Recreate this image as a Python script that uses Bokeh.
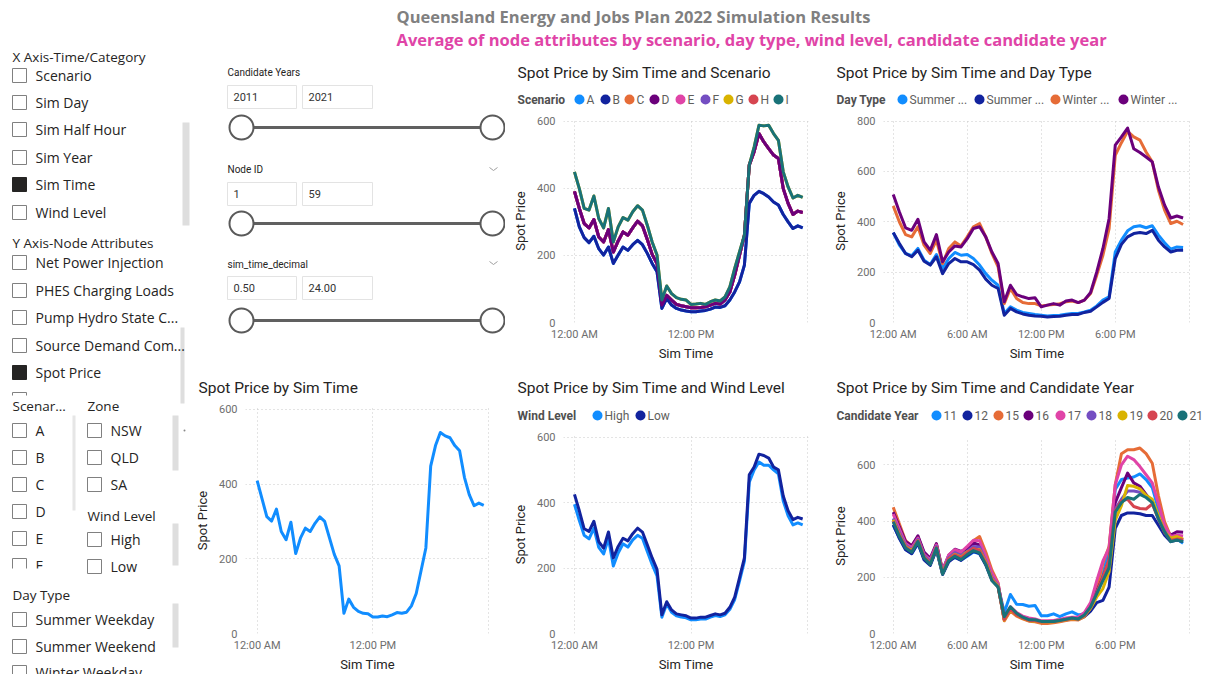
from bokeh.plotting import figure
from bokeh.layouts import row, column
from bokeh.models import Range1d, FixedTicker
from bokeh.core.properties import value
from bokeh.embed import file_html
from bokeh.resources import INLINE

# ------------------------------------------------------------------ data
sim_time = [0.0, 0.5, 1.0, 1.5, 2.0, 2.5, 3.0, 3.5, 4.0, 4.5, 5.0, 5.5,
            6.0, 6.5, 7.0, 7.5, 8.0, 8.5, 9.0, 9.5, 10.0, 10.5, 11.0, 11.5,
            12.0, 12.5, 13.0, 13.5, 14.0, 14.5, 15.0, 15.5, 16.0, 16.5, 17.0, 17.5,
            18.0, 18.5, 19.0, 19.5, 20.0, 20.5, 21.0, 21.5, 22.0, 22.5, 23.0, 23.5]

ticks_12h = [0, 12, 24]
labels_12h = ["12:00 AM", "12:00 PM", ""]
ticks_6h = [0, 6, 12, 18, 24]
labels_6h = ["12:00 AM", "6:00 AM", "12:00 PM", "6:00 PM", ""]

# Spot Price by Sim Time
spot_price_total = [409, 361, 313, 301, 333, 273, 251, 298, 214, 256, 282, 273, 295, 312, 300, 256, 212, 181,
                    54, 92, 70, 59, 54, 53, 44, 44, 47, 45, 50, 56, 54, 57,
                    74, 107, 168, 229,
                    448, 503, 538, 529, 524, 503, 489, 418, 372, 342, 349, 343]

# Spot Price by Sim Time and Wind Level
wind_levels = ["High", "Low"]
wind_high = [395, 345, 300, 289, 322, 263, 243, 291, 206, 246, 274, 264, 286, 300, 291, 251, 211, 176,
             50, 90, 65, 54, 50, 48, 42, 42, 44, 44, 50, 55, 52, 57,
             74, 104, 161, 221,
             462, 500, 524, 514, 514, 500, 488, 405, 360, 332, 338, 332]
wind_low = [425, 375, 320, 312, 343, 281, 261, 310, 231, 266, 291, 283, 305, 322, 310, 271, 231, 196,
            57, 97, 72, 60, 57, 54, 47, 47, 50, 50, 55, 60, 57, 62,
            80, 111, 171, 231,
            485, 509, 548, 544, 536, 509, 500, 420, 375, 348, 355, 350]

# Spot Price by Sim Time and Scenario (scenarios fall on three coincident profiles)
scenario_names = ["A", "B", "C", "D", "E", "F", "G", "H", "I"]
scenario_group = ["low", "low", "mid", "mid", "mid", "mid", "high", "mid", "high"]
scen_low = [340, 285, 253, 238, 257, 220, 201, 225, 176, 201, 225, 215, 232, 245, 232, 206, 176, 151,
            42, 72, 52, 42, 37, 34, 32, 32, 34, 36, 40, 46, 45, 50,
            67, 91, 121, 171,
            355, 379, 391, 384, 374, 359, 350, 322, 300, 280, 288, 282]
scen_mid = [391, 340, 295, 282, 307, 255, 240, 277, 210, 243, 270, 260, 282, 302, 288, 247, 203, 176,
            52, 81, 67, 54, 50, 47, 44, 44, 45, 47, 52, 57, 55, 67,
            91, 141, 201, 260,
            469, 509, 563, 538, 518, 499, 489, 399, 355, 322, 332, 328]
scen_high = [449, 399, 340, 335, 377, 310, 282, 340, 240, 285, 313, 305, 330, 348, 335, 290, 240, 201,
             67, 109, 86, 74, 69, 67, 54, 55, 57, 54, 62, 67, 64, 76,
             106, 161, 211, 260,
             469, 523, 588, 586, 588, 563, 543, 449, 404, 371, 379, 373]

# Spot Price by Sim Time and Day Type
day_types = ["Summer Weekday", "Summer Weekend", "Winter Weekday", "Winter Weekend"]
day_type_legend = ["Summer ...", "Summer ...", "Winter ...", "Winter ..."]
summer_weekday = [357, 307, 274, 265, 294, 247, 230, 270, 214, 254, 278, 267, 270, 254, 228, 194, 168, 148,
                  36, 62, 49, 40, 36, 32, 29, 26, 28, 29, 33, 36, 36, 42,
                  49, 66, 89, 102,
                  280, 327, 364, 380, 384, 376, 384, 347, 317, 291, 300, 298]
summer_weekend = [357, 314, 274, 261, 287, 243, 228, 261, 194, 234, 254, 241, 241, 230, 208, 172, 148, 135,
                  29, 56, 42, 34, 29, 26, 25, 22, 24, 25, 29, 32, 32, 40,
                  45, 62, 80, 95,
                  254, 310, 340, 353, 357, 353, 366, 327, 300, 280, 287, 287]
winter_weekday = [463, 399, 349, 340, 380, 307, 274, 327, 234, 294, 320, 304, 340, 380, 393, 340, 274, 221,
                  75, 135, 95, 79, 75, 75, 66, 69, 71, 75, 82, 85, 79, 89,
                  115, 188, 267, 373,
                  664, 714, 759, 737, 724, 677, 638, 525, 446, 393, 402, 389]
winter_weekend = [508, 439, 376, 366, 410, 320, 287, 349, 241, 280, 304, 300, 333, 373, 380, 340, 280, 234,
                  82, 148, 111, 102, 95, 98, 62, 69, 75, 69, 85, 89, 79, 89,
                  119, 201, 294, 413,
                  704, 737, 772, 690, 675, 657, 638, 538, 466, 415, 423, 415]

# Spot Price by Sim Time and Candidate Year
candidate_years = ["11", "12", "15", "16", "17", "18", "19", "20", "21"]
cy_11 = [385, 340, 300, 285, 320, 265, 245, 300, 212, 262, 270, 262, 275, 290, 285, 248, 195, 170,
         75, 139, 104, 103, 97, 100, 63, 63, 70, 60, 70, 77, 66, 70,
         95, 150, 210, 300,
         513, 548, 553, 557, 568, 548, 519, 443, 374, 345, 336, 321]
cy_12 = [387, 338, 298, 284, 322, 262, 242, 298, 210, 255, 272, 260, 278, 292, 284, 244, 190, 168,
         50, 85, 68, 55, 48, 46, 40, 40, 42, 44, 48, 52, 50, 60,
         80, 110, 118, 165,
         374, 420, 429, 429, 426, 420, 420, 385, 350, 327, 333, 327]
cy_15 = [449, 390, 330, 312, 345, 285, 260, 318, 225, 275, 295, 285, 305, 330, 345, 290, 225, 180,
         45, 80, 62, 52, 44, 42, 36, 36, 38, 42, 46, 50, 48, 60,
         100, 160, 250, 310,
         530, 640, 654, 654, 660, 640, 606, 490, 397, 345, 339, 333]
cy_16 = [432, 380, 328, 312, 348, 290, 268, 320, 225, 278, 300, 292, 302, 322, 315, 262, 200, 172,
         58, 92, 70, 58, 50, 48, 43, 43, 45, 48, 52, 56, 54, 68,
         95, 150, 200, 260,
         466, 519, 571, 536, 524, 495, 466, 414, 374, 350, 362, 360]
cy_17 = [425, 372, 320, 305, 340, 282, 262, 315, 222, 280, 298, 290, 310, 332, 330, 275, 215, 178,
         55, 95, 75, 62, 55, 52, 45, 45, 46, 50, 55, 58, 58, 75,
         110, 188, 258, 304,
         530, 600, 631, 619, 594, 565, 536, 461, 385, 345, 350, 347]
cy_18 = [410, 360, 315, 298, 335, 278, 255, 310, 218, 270, 288, 278, 292, 310, 308, 258, 200, 170,
         52, 88, 68, 56, 48, 46, 42, 42, 44, 47, 50, 54, 52, 64,
         95, 145, 195, 250,
         443, 478, 507, 507, 503, 490, 466, 408, 362, 333, 339, 333]
cy_19 = [405, 352, 310, 295, 330, 272, 250, 305, 215, 265, 282, 272, 290, 300, 298, 255, 195, 168,
         48, 84, 65, 54, 46, 44, 40, 40, 42, 45, 49, 53, 50, 62,
         90, 130, 160, 220,
         403, 455, 527, 524, 515, 492, 478, 420, 362, 339, 345, 336]
cy_20 = [400, 350, 308, 292, 330, 272, 250, 306, 214, 266, 280, 270, 288, 303, 296, 250, 192, 165,
         50, 86, 66, 55, 47, 45, 41, 41, 43, 46, 50, 54, 51, 63,
         95, 145, 200, 265,
         437, 472, 478, 452, 445, 443, 461, 408, 360, 331, 336, 333]
cy_21 = [397, 345, 304, 289, 327, 269, 246, 304, 211, 260, 275, 263, 281, 295, 287, 246, 188, 165,
         60, 95, 72, 58, 49, 49, 43, 43, 43, 46, 51, 55, 52, 66,
         95, 142, 188, 234,
         432, 466, 484, 478, 495, 484, 466, 408, 362, 327, 333, 327]

# slicer contents
x_axis_items = ["Scenario", "Sim Day", "Sim Half Hour", "Sim Year", "Sim Time", "Wind Level"]
x_axis_checked = [False, False, False, False, True, False]
y_axis_items = ["Net Power Injection", "PHES Charging Loads", "Pump Hydro State C...",
                "Source Demand Com...", "Spot Price"]
y_axis_checked = [False, False, False, False, True]
scenario_items = ["A", "B", "C", "D", "E", "F"]
zone_items = ["NSW", "QLD", "SA"]
wind_items = ["High", "Low"]
day_items = ["Summer Weekday", "Summer Weekend", "Winter Weekday"]
slider_titles = ["Candidate Years", "Node ID", "sim_time_decimal"]
slider_lows = ["2011", "1", "0.50"]
slider_highs = ["2021", "59", "24.00"]

# ------------------------------------------------------------------ style
PBI = ["#118DFF", "#12239E", "#E66C37", "#6B007B", "#E044A7",
       "#744EC2", "#D9B300", "#D64550", "#197278"]
TXT = "#252423"
LEG_TXT = "#605E5C"
TICK_TXT = "#6E6E6E"
UI_FONT = "Open Sans"
CH_FONT = "Roboto"
F_UI = value(UI_FONT)
F_CH = value(CH_FONT)


def canvas(x0, y0, w, h):
    p = figure(width=w, height=h, x_range=Range1d(x0, x0 + w), y_range=Range1d(y0 + h, y0),
               x_axis_type=None, y_axis_type=None, output_backend="svg",
               toolbar_location=None, title=None, min_border=0)
    p.outline_line_color = None
    return p


def put_text(p, xs, ys, texts, size, color=TXT, font=F_UI, style="normal", align="left"):
    p.text(x=xs, y=ys, text=texts, text_font=font, text_font_size=size, text_color=color,
           text_font_style=style, text_align=align, text_baseline="middle")


def checkboxes(p, bx, ys, labels, checked=None):
    if checked is None:
        checked = [False] * len(ys)
    fills = [TXT if c else "white" for c in checked]
    lines = [TXT if c else "#808080" for c in checked]
    p.scatter(x=[bx + 7] * len(ys), y=ys, size=14, marker="square",
              fill_color=fills, line_color=lines, line_width=1)
    put_text(p, [bx + 23] * len(ys), ys, labels, "14px")


def bars(p, rects, color):
    p.quad(left=[r[0] for r in rects], right=[r[1] for r in rects],
           top=[r[2] for r in rects], bottom=[r[3] for r in rects],
           fill_color=color, line_color=None)


def make_plot(x0, y0, w, h, fl, fr, ft, fb, xr, ymax, xt, xl, yt):
    p = figure(width=w, height=h, x_range=Range1d(xr[0], xr[1]), y_range=Range1d(0, ymax),
               output_backend="svg", toolbar_location=None, title=None,
               min_border_left=fl - x0, min_border_right=x0 + w - fr,
               min_border_top=ft - y0, min_border_bottom=y0 + h - fb)
    p.outline_line_color = None
    p.xaxis.ticker = FixedTicker(ticks=xt, minor_ticks=[])
    p.xaxis.major_label_overrides = {t: l for t, l in zip(xt, xl)}
    p.yaxis.ticker = FixedTicker(ticks=yt, minor_ticks=[])
    for ax in (p.xaxis[0], p.yaxis[0]):
        ax.axis_line_color = None
        ax.major_tick_line_color = None
        ax.minor_tick_line_color = None
        ax.major_tick_out = 0
        ax.major_tick_in = 0
        ax.major_label_text_font = CH_FONT
        ax.major_label_text_font_size = "11px"
        ax.major_label_text_color = TICK_TXT
        ax.axis_label_text_font = CH_FONT
        ax.axis_label_text_font_size = "13px"
        ax.axis_label_text_font_style = "normal"
        ax.axis_label_text_color = TXT
    p.xaxis.axis_label = "Sim Time"
    p.yaxis.axis_label = "Spot Price"
    p.xaxis.major_label_standoff = 5
    p.xaxis.axis_label_standoff = 2
    p.yaxis.major_label_standoff = 8
    p.yaxis.axis_label_standoff = 6
    p.grid.grid_line_color = "#C8C8C8"
    p.grid.grid_line_dash = "1 3"
    p.grid.grid_line_width = 1
    return p


def draw_lines(p, series, colors):
    for vals, col in zip(series, colors):
        p.line(sim_time, vals, line_color=col, line_width=3, line_join="round")


def header(x0, y0, w, h, title, tx, ty, leg_title=None, ly=None, names=None, colors=None, xs=None):
    p = canvas(x0, y0, w, h)
    put_text(p, [tx], [ty], [title], "15.5px", TXT, F_CH)
    if leg_title is not None:
        put_text(p, [tx], [ly], [leg_title], "12px", "#505050", F_CH, "bold")
        p.scatter(x=xs, y=[ly] * len(xs), size=10, marker="circle", fill_color=colors, line_color=None)
        put_text(p, [x + 7 for x in xs], [ly] * len(xs), names, "12px", LEG_TXT, F_CH)
    return p


# ------------------------------------------------------------------ page title
title_fig = canvas(190, 0, 1016, 50)
put_text(title_fig, [396], [16], ["Queensland Energy and Jobs Plan 2022 Simulation Results"],
         "16.5px", "#808080", F_UI, "bold")
put_text(title_fig, [396], [39],
         ["Average of node attributes by scenario, day type, wind level, candidate candidate year"],
         "16.5px", "#E044A7", F_UI, "bold")

# ------------------------------------------------------------------ left slicer panel
left = canvas(0, 0, 190, 674)
bars(left, [(182, 189, 122, 225), (180, 184, 327, 403), (172, 178, 415, 470),
            (172, 178, 523, 565), (172, 178, 603, 647)], "#DEDEDE")
bars(left, [(72, 75, 415, 510)], "#E6E6E6")
put_text(left, [12, 12, 12, 87, 87, 12], [56, 242, 405, 405, 515, 594],
         ["X Axis-Time/Category", "Y Axis-Node Attributes", "Scenar...", "Zone", "Wind Level", "Day Type"],
         "13.5px")
checkboxes(left, 12, [75, 102, 129, 157, 184, 212], x_axis_items, x_axis_checked)
checkboxes(left, 12, [262, 290, 317, 345, 372], y_axis_items, y_axis_checked)
left.segment(x0=[12, 12, 26], y0=[392, 392, 392], x1=[26, 12, 26], y1=[392, 395, 395],
             line_color="#808080", line_width=1)
checkboxes(left, 12, [430, 457, 484, 511, 538, 565], scenario_items)
bars(left, [(0, 70, 568, 585)], "white")
checkboxes(left, 87, [430, 457, 484], zone_items)
checkboxes(left, 87, [539, 566], wind_items)
checkboxes(left, 12, [619, 646, 672], day_items)
left.scatter(x=[184], y=[430], size=2, marker="circle", fill_color="#888888", line_color=None)

# ------------------------------------------------------------------ range sliders
sliders = canvas(190, 50, 315, 318)
label_ys = [72, 169, 264]
box_ys = [(85, 108), (182, 205), (276, 299)]
track_ys = [127, 223, 320]
put_text(sliders, [227] * 3, label_ys, slider_titles, "10px", TXT, F_CH)
rects = []
for b in box_ys:
    rects.append((227, 296, b[0], b[1]))
    rects.append((302, 372, b[0], b[1]))
sliders.quad(left=[r[0] for r in rects], right=[r[1] for r in rects],
             top=[r[2] for r in rects], bottom=[r[3] for r in rects],
             fill_color="white", line_color="#E3E3E3", line_width=1)
mids = [(b[0] + b[1]) / 2 for b in box_ys]
put_text(sliders, [233] * 3 + [308] * 3, mids + mids, slider_lows + slider_highs, "11px", "#333333", F_CH)
sliders.segment(x0=[253] * 3, y0=track_ys, x1=[480] * 3, y1=track_ys, line_color="#606060", line_width=3)
sliders.scatter(x=[241] * 3 + [492] * 3, y=track_ys + track_ys, size=24, marker="circle",
                fill_color="white", line_color="#5A5A5A", line_width=2)
sliders.segment(x0=[489, 493, 489, 493], y0=[167, 170, 261, 264], x1=[493, 497, 493, 497],
                y1=[170, 167, 264, 261], line_color="#A0A0A0", line_width=1)

# ------------------------------------------------------------------ Spot Price by Sim Time
st_head = header(190, 368, 315, 30, "Spot Price by Sim Time", 198, 387)
st_plot = make_plot(190, 398, 315, 276, 245, 489, 407, 637, (-1.21, 24.1), 605,
                    ticks_12h, labels_12h, [0, 200, 400, 600])
draw_lines(st_plot, [spot_price_total], [PBI[0]])

# ------------------------------------------------------------------ Scenario
scen_profiles = {"low": scen_low, "mid": scen_mid, "high": scen_high}
scen_head = header(505, 50, 317, 60, "Spot Price by Sim Time and Scenario", 517, 72,
                   "Scenario", 99, scenario_names, PBI,
                   [579, 605, 629, 654, 680, 705, 728, 753, 778])
scen_plot = make_plot(505, 110, 317, 258, 563, 808, 119, 322, (-1.13, 24.1), 605,
                      ticks_12h, labels_12h, [0, 200, 400, 600])
order = [0, 2, 4, 5, 7, 6, 1, 3, 8]
draw_lines(scen_plot, [scen_profiles[scenario_group[i]] for i in order], [PBI[i] for i in order])

# ------------------------------------------------------------------ Wind Level
wind_head = header(505, 368, 317, 60, "Spot Price by Sim Time and Wind Level", 517, 387,
                   "Wind Level", 415, wind_levels, PBI[:2], [597, 640])
wind_plot = make_plot(505, 428, 317, 246, 563, 808, 435, 637, (-1.13, 24.1), 605,
                      ticks_12h, labels_12h, [0, 200, 400, 600])
draw_lines(wind_plot, [wind_high, wind_low], PBI[:2])

# ------------------------------------------------------------------ Day Type
day_head = header(822, 50, 384, 60, "Spot Price by Sim Time and Day Type", 836, 72,
                  "Day Type", 99, day_type_legend, PBI[:4], [902, 979, 1055, 1123])
day_plot = make_plot(822, 110, 384, 258, 883, 1190, 119, 322, (-0.79, 24.1), 806,
                     ticks_6h, labels_6h, [0, 200, 400, 600, 800])
draw_lines(day_plot, [summer_weekday, summer_weekend, winter_weekday, winter_weekend], PBI[:4])

# ------------------------------------------------------------------ Candidate Year
cand_head = header(822, 368, 384, 60, "Spot Price by Sim Time and Candidate Year", 836, 387,
                   "Candidate Year", 415, candidate_years, PBI,
                   [936, 967, 998, 1028, 1060, 1091, 1122, 1152, 1182])
cand_plot = make_plot(822, 428, 384, 246, 883, 1190, 438, 637, (-0.79, 24.1), 694,
                      ticks_6h, labels_6h, [0, 200, 400, 600])
draw_lines(cand_plot, [cy_11, cy_12, cy_15, cy_16, cy_17, cy_18, cy_19, cy_20, cy_21], PBI)

# ------------------------------------------------------------------ layout
# canvases are wrapped in their own rows so that they are not frame-aligned with the charts
page = row(
    left,
    column(title_fig,
           row(column(row(sliders), row(st_head), st_plot),
               column(row(scen_head), scen_plot, row(wind_head), wind_plot),
               column(row(day_head), day_plot, row(cand_head), cand_plot))),
)

open("out.html", "w").write(file_html(page, INLINE))
